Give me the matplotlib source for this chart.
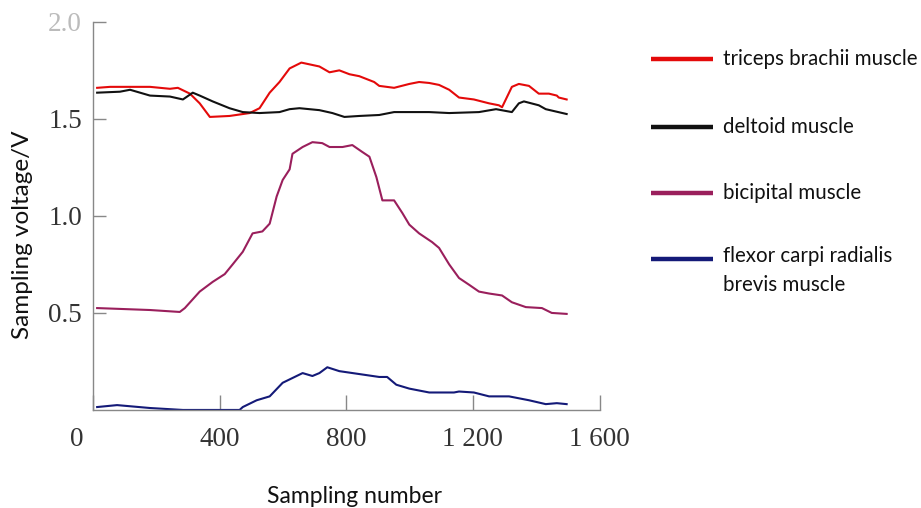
import matplotlib
matplotlib.use("Agg")
import matplotlib.pyplot as plt
from matplotlib.lines import Line2D
from matplotlib.transforms import ScaledTranslation

# ---- data ----
tri_x = [13, 54, 117, 180, 243, 268, 306, 337, 369, 431, 495, 526, 558, 589, 621, 658,
         715, 747, 778, 810, 841, 888, 904, 951, 999, 1030, 1062, 1093, 1125, 1156, 1203,
         1251, 1282, 1292, 1323, 1345, 1377, 1408, 1440, 1465, 1471, 1496]
tri_y = [1.66, 1.665, 1.665, 1.665, 1.655, 1.66, 1.63, 1.58, 1.51, 1.515, 1.53, 1.555, 1.635,
         1.69, 1.76, 1.79, 1.77, 1.74, 1.75, 1.73, 1.72, 1.69, 1.67, 1.66, 1.68, 1.69, 1.685,
         1.675, 1.65, 1.61, 1.60, 1.58, 1.57, 1.56, 1.665, 1.68, 1.67, 1.63, 1.63, 1.62, 1.61, 1.60]

del_x = [13, 85, 117, 180, 243, 284, 315, 337, 378, 431, 473, 526, 589, 621, 652, 715, 756,
         794, 841, 904, 951, 1062, 1125, 1219, 1273, 1323, 1345, 1361, 1408, 1430, 1496]
del_y = [1.635, 1.64, 1.65, 1.62, 1.615, 1.60, 1.635, 1.62, 1.59, 1.555, 1.535, 1.53, 1.535,
         1.55, 1.555, 1.545, 1.53, 1.51, 1.515, 1.52, 1.535, 1.535, 1.53, 1.535, 1.55, 1.535,
         1.58, 1.59, 1.57, 1.55, 1.525]

bic_x = [13, 180, 274, 290, 337, 378, 416, 441, 473, 504, 535, 558, 580, 599, 621, 630, 662,
         693, 724, 747, 788, 819, 850, 873, 895, 914, 951, 977, 999, 1030, 1071, 1093, 1125,
         1156, 1188, 1219, 1251, 1292, 1323, 1367, 1418, 1449, 1496]
bic_y = [0.525, 0.515, 0.505, 0.525, 0.61, 0.66, 0.70, 0.75, 0.815, 0.91, 0.92, 0.96, 1.10,
         1.185, 1.24, 1.32, 1.355, 1.38, 1.375, 1.355, 1.355, 1.365, 1.33, 1.305, 1.20, 1.08,
         1.08, 1.015, 0.955, 0.91, 0.865, 0.835, 0.75, 0.68, 0.645, 0.61, 0.60, 0.59, 0.555,
         0.53, 0.525, 0.50, 0.495]

flx_x = [13, 76, 180, 284, 369, 463, 473, 517, 558, 599, 662, 693, 715, 740, 778, 841, 904,
         929, 958, 999, 1062, 1140, 1156, 1203, 1251, 1314, 1377, 1430, 1465, 1496]
flx_y = [0.015, 0.025, 0.01, 0.0, 0.0, 0.0, 0.015, 0.05, 0.07, 0.14, 0.19, 0.175, 0.19, 0.22,
         0.20, 0.185, 0.17, 0.17, 0.13, 0.11, 0.09, 0.09, 0.095, 0.09, 0.07, 0.07, 0.05, 0.03,
         0.035, 0.03]

series_labels = ["triceps brachii muscle", "deltoid muscle", "bicipital muscle",
                 "flexor carpi radialis\nbrevis muscle"]
series_colors = ["#e40a0a", "#111111", "#9a1f5c", "#141a78"]

x_ticks = [0, 400, 800, 1200, 1600]
x_ticklabels = ["0", "400", "800", "1 200", "1 600"]
y_ticks = [0.5, 1.0, 1.5, 2.0]
y_ticklabels = ["0.5", "1.0", "1.5", "2.0"]

# ---- figure ----
fig = plt.figure(figsize=(9.21, 5.08), dpi=100)
ax = fig.add_axes([0.101, 0.193, 0.550, 0.764])

data = [(tri_x, tri_y), (del_x, del_y), (bic_x, bic_y), (flx_x, flx_y)]
for (xs, ys), c in zip(data, series_colors):
    ax.plot(xs, ys, color=c, lw=1.5, solid_joinstyle="round")

ax.set_xlim(0, 1600)
ax.set_ylim(0, 2.0)
ax.set_xticks(x_ticks)
ax.set_xticklabels(x_ticklabels)
ax.set_yticks(y_ticks)
ax.set_yticklabels(y_ticklabels)

serif = "Liberation Serif"
for lab in ax.get_xticklabels() + ax.get_yticklabels():
    lab.set_fontfamily(serif)
    lab.set_fontsize(19.5)
    lab.set_color("#333333")
ax.get_yticklabels()[-1].set_color("#bbbbbb")

ax.tick_params(axis="x", direction="in", length=11, width=1, color="#888888", pad=12)
ax.tick_params(axis="y", direction="in", length=9, width=1, color="#888888", pad=8)

# shift the "0" label left as in the reference
lab0 = ax.get_xticklabels()[0]
lab0.set_transform(lab0.get_transform() + ScaledTranslation(-0.16, 0, fig.dpi_scale_trans))

for s in ["top", "right"]:
    ax.spines[s].set_visible(False)
for s in ["left", "bottom"]:
    ax.spines[s].set_color("#888888")
    ax.spines[s].set_linewidth(1.0)

sans = "Lato"
ax.set_xlabel("Sampling number", fontfamily=sans, fontsize=16.5, color="#111111")
ax.set_ylabel("Sampling voltage/V", fontfamily=sans, fontsize=17.5, color="#111111")
ax.xaxis.set_label_coords(0.517, -0.195)
ax.yaxis.set_label_coords(-0.118, 0.451)

# ---- legend (drawn at right side of figure) ----
rows_y = [0.884, 0.750, 0.620, 0.490]
for lab, c, yy in zip(series_labels, series_colors, rows_y):
    fig.add_artist(Line2D([0.707, 0.774], [yy, yy], transform=fig.transFigure,
                          color=c, lw=3.2, solid_capstyle="butt"))
    fig.text(0.785, yy, lab, fontfamily=sans, fontsize=14.8, color="#111111",
             va="top" if "\n" in lab else "center",
             linespacing=1.6)

# adjust the two-line label to start centered on its line
fig.texts[-1].set_y(rows_y[-1] + 0.026)

fig.savefig("out.png", dpi=100)
